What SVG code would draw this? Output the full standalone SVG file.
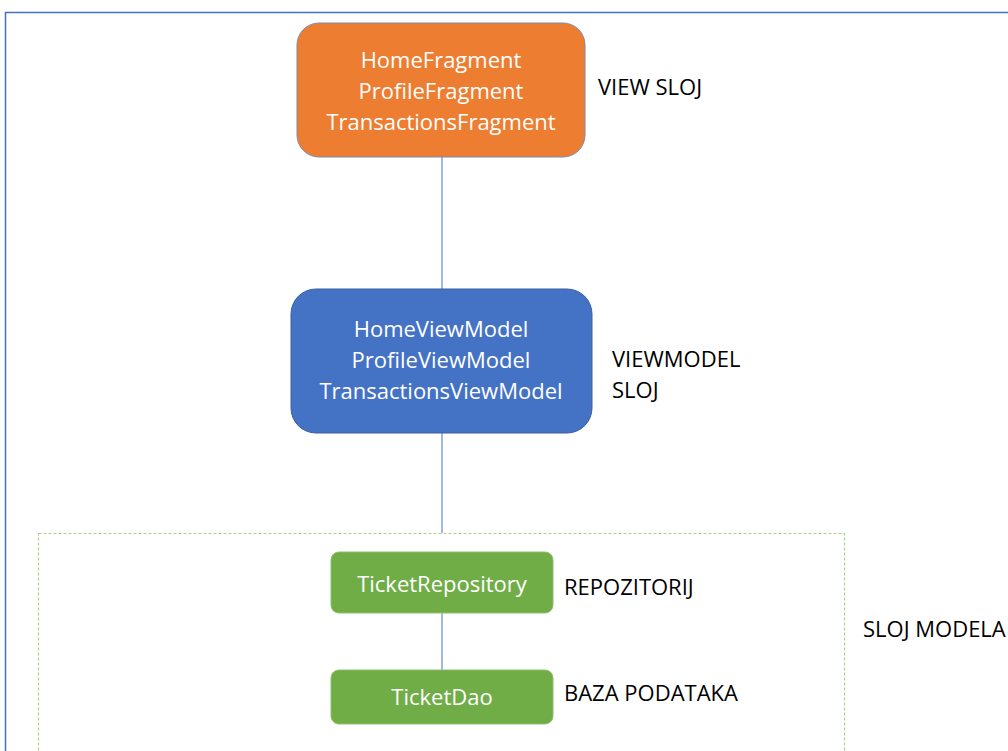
<svg xmlns="http://www.w3.org/2000/svg" width="1008" height="751" viewBox="0 0 1008 751">
<style>
.node-text{font-family:"Open Sans","Liberation Sans",sans-serif;font-size:22px;fill:#ffffff;text-anchor:middle}
.label{font-family:"Open Sans","Liberation Sans",sans-serif;font-size:22px;fill:#000000}
.conn{stroke:#4472c4;stroke-width:1;fill:none}
</style>
<rect x="5.5" y="12.5" width="1020" height="760" fill="#ffffff" stroke="#4472c4" stroke-width="1.5"/>
<rect x="38.5" y="533.5" width="806" height="240" fill="none" stroke="#a9d18e" stroke-width="1.2" stroke-dasharray="3,2"/>
<g id="connectors">
<line class="conn" x1="442" y1="157" x2="442" y2="289"/>
<line class="conn" x1="442" y1="433" x2="442" y2="533"/>
<line class="conn" x1="442" y1="613" x2="442" y2="670"/>
</g>
<g id="view">
<rect x="297" y="23" width="288" height="134" rx="22" fill="#ed7d31" stroke="#7e8aa8" stroke-width="1"/>
<text class="node-text" x="441" y="68">HomeFragment</text>
<text class="node-text" x="441" y="99">ProfileFragment</text>
<text class="node-text" x="441" y="130">TransactionsFragment</text>
</g>
<g id="viewmodel">
<rect x="291" y="289" width="301" height="144" rx="25" fill="#4472c4" stroke="#3a5f9f" stroke-width="1"/>
<text class="node-text" x="441" y="337">HomeViewModel</text>
<text class="node-text" x="441" y="368">ProfileViewModel</text>
<text class="node-text" x="441" y="399">TransactionsViewModel</text>
</g>
<g id="repository">
<rect x="331" y="552" width="222" height="61" rx="8" fill="#70ad47" stroke="#8fbf6c" stroke-width="1"/>
<text class="node-text" x="442" y="592">TicketRepository</text>
</g>
<g id="dao">
<rect x="331" y="670" width="222" height="54" rx="8" fill="#70ad47" stroke="#8fbf6c" stroke-width="1"/>
<text class="node-text" x="442" y="705">TicketDao</text>
</g>
<g id="labels">
<text class="label" x="598" y="95">VIEW SLOJ</text>
<text class="label" x="612" y="367">VIEWMODEL</text>
<text class="label" x="612" y="398">SLOJ</text>
<text class="label" x="564" y="595">REPOZITORIJ</text>
<text class="label" x="564" y="701">BAZA PODATAKA</text>
<text class="label" x="863" y="637">SLOJ MODELA</text>
</g>
</svg>
